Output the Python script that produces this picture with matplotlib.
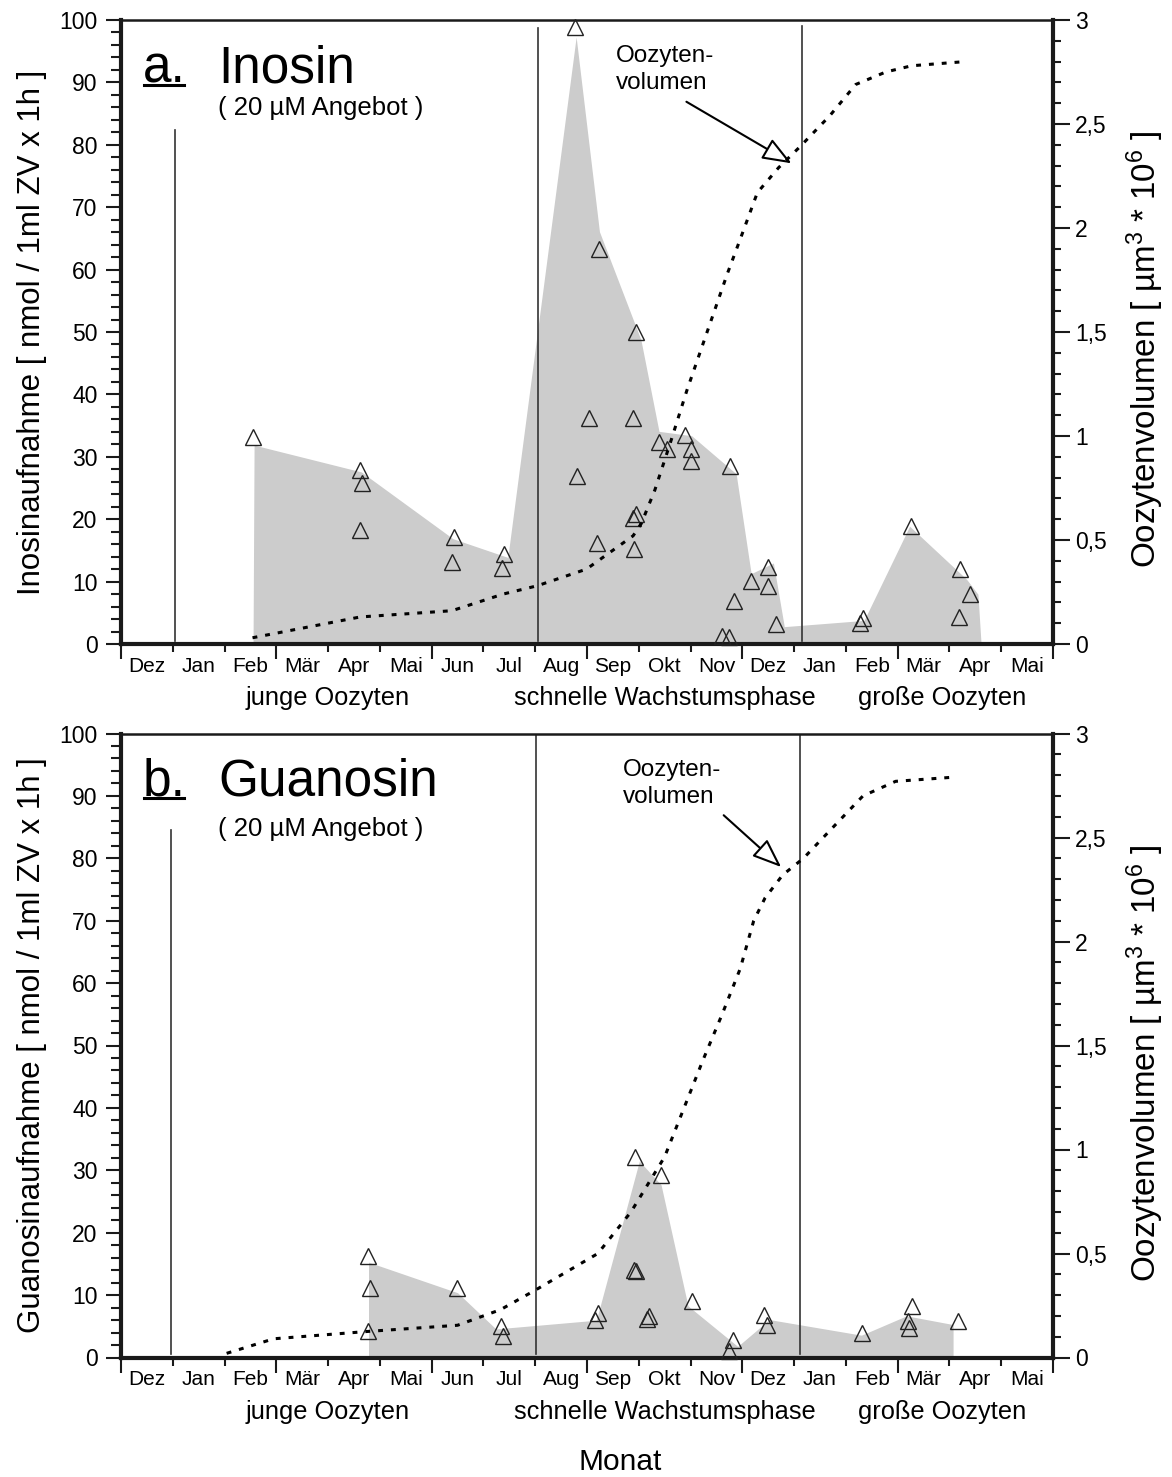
import matplotlib as mpl
mpl.use('Agg')
import matplotlib.pyplot as plt
import matplotlib.ticker as plticker
import matplotlib.transforms as mtrans
from matplotlib.lines import Line2D

plt.rcParams['font.family'] = ['Liberation Sans', 'DejaVu Sans']
plt.rcParams['mathtext.fontset'] = 'custom'
plt.rcParams['mathtext.rm'] = 'Liberation Sans'
plt.rcParams['mathtext.it'] = 'Liberation Sans'

# x axis: months from Dez to Mai of the following year, one unit per month
months = ['Dez', 'Jan', 'Feb', 'Mär', 'Apr', 'Mai', 'Jun', 'Jul', 'Aug',
          'Sep', 'Okt', 'Nov', 'Dez', 'Jan', 'Feb', 'Mär', 'Apr', 'Mai']
phases = ['junge Oozyten', 'schnelle Wachstumsphase', 'große Oozyten']

# a. Inosin uptake, single measurements
ino_t = [2.54, 4.62, 4.66, 4.62, 6.43, 6.40, 7.39, 7.36, 8.77, 9.23, 9.94, 9.03, 9.88,
         8.81, 9.94, 9.89, 9.19, 9.91, 10.40, 10.54, 10.90, 11.00, 11.00, 11.76,
         12.49, 12.16, 12.49, 11.83, 12.65, 11.60, 11.74, 14.33, 14.27, 15.25,
         16.21, 16.40, 16.18]
ino_v = [33.2, 27.9, 25.8, 18.3, 17.2, 13.2, 14.5, 12.2, 98.8, 63.3, 50.0, 36.2, 36.2,
         26.9, 20.8, 20.2, 16.2, 15.2, 32.3, 31.2, 33.5, 31.2, 29.3, 28.5,
         12.4, 10.1, 9.3, 6.9, 3.2, 1.3, 1.2, 4.1, 3.4, 18.9,
         12.0, 8.0, 4.3]
# envelope of the Inosin values
ino_env_t = [2.56, 2.58, 4.65, 6.42, 7.48, 8.80, 9.25, 10.05, 10.40, 11.03, 11.89,
             12.18, 12.61, 12.82, 14.36, 15.24, 16.34, 16.56, 16.62]
ino_env_v = [0, 31.8, 27.5, 16.8, 13.8, 97.2, 66.0, 48.7, 34.0, 33.3, 27.2,
             11.2, 12.9, 2.7, 3.7, 18.8, 10.3, 7.9, 0]

# b. Guanosin uptake, single measurements
gua_t = [4.78, 4.80, 4.78, 6.48, 7.34, 7.37, 9.22, 9.16, 9.93, 10.42, 9.91, 9.94,
         10.19, 10.15, 11.03, 11.82, 11.75, 12.41, 12.47, 14.32, 15.28, 15.19,
         15.21, 16.16]
gua_v = [16.3, 11.2, 4.2, 11.1, 5.0, 3.4, 7.2, 6.0, 32.2, 29.2, 14.0, 13.8,
         6.7, 6.1, 9.1, 2.8, 1.1, 6.8, 5.2, 4.0, 8.3, 5.9,
         4.7, 5.9]
gua_env_t = [4.79, 4.79, 6.51, 7.25, 9.19, 10.02, 10.44, 10.96, 11.92, 12.53,
             14.31, 15.18, 16.08, 16.08]
gua_env_v = [0, 15.2, 10.3, 4.5, 5.9, 31.4, 27.6, 8.2, 1.7, 6.0,
             3.5, 6.6, 5.2, 0]

# oocyte volume [um^3 * 10^6]
vol_a_t = [2.54, 4.62, 6.39, 7.38, 8.04, 8.99, 9.89, 10.05, 10.31, 10.60, 10.93,
           11.25, 11.71, 11.95, 12.29, 12.70, 13.11, 13.69, 14.19, 14.77, 15.27, 16.30]
vol_a_v = [0.03, 0.13, 0.16, 0.24, 0.28, 0.36, 0.52, 0.58, 0.74, 0.96, 1.22,
           1.45, 1.78, 1.94, 2.17, 2.29, 2.39, 2.54, 2.69, 2.75, 2.78, 2.80]
vol_b_t = [2.04, 2.95, 3.98, 4.75, 6.50, 7.33, 8.01, 9.21, 9.85, 10.50, 11.24,
           11.61, 11.96, 12.22, 12.44, 12.78, 13.18, 13.85, 14.33, 14.96, 16.08]
vol_b_v = [0.02, 0.09, 0.11, 0.125, 0.155, 0.23, 0.325, 0.50, 0.70, 0.965, 1.43,
           1.65, 1.87, 2.10, 2.21, 2.32, 2.40, 2.575, 2.70, 2.77, 2.79]

# phase boundaries (month position, top of the line)
sep_a_t = [1.04, 8.05, 13.16]
sep_a_top = [82.4, 98.7, 99.0]
sep_b_t = [0.97, 8.02, 13.11]
sep_b_top = [84.6, 100, 100]

cfill = '#cccccc'
cedge = '#1a1a1a'

W, H = 1172, 1477
my_dpi = 100
fig = plt.figure(figsize=(W / my_dpi, H / my_dpi), dpi=my_dpi)


def commaFormatter(x, pos):
    return '{:g}'.format(x).replace('.', ',')


def panel(rect, letter, name, pts_t, pts_v, env_t, env_v, vol_t, vol_v,
          sep_t, sep_top, ylabel, note_xy, arrow_from, arrow_to, sub_y):
    ax = fig.add_axes(rect)
    ax.set_xlim(0, 18)
    ax.set_ylim(0, 100)

    ax.fill(env_t, env_v, color=cfill, lw=0, zorder=1)
    for xs, top in zip(sep_t, sep_top):
        ax.plot([xs, xs], [0.5, top], color='#333333', lw=1.2, zorder=2)
    ax.plot(pts_t, pts_v, ls='none', marker='^', ms=11.5, mfc='none',
            mec='#222222', mew=1.0, zorder=3, clip_on=False)

    # month grid on x
    ax.xaxis.set_major_locator(plticker.MultipleLocator(3))
    ax.xaxis.set_minor_locator(plticker.MultipleLocator(1))
    ax.xaxis.set_major_formatter(plticker.NullFormatter())
    ax.tick_params(axis='x', which='major', direction='out', length=11, width=1.5, color=cedge)
    ax.tick_params(axis='x', which='minor', direction='out', length=6, width=1.5, color=cedge)
    trans = mtrans.blended_transform_factory(ax.transData, ax.transAxes)
    for i, m in enumerate(months):
        ax.text(i + 0.5, -0.036, m, transform=trans, ha='center', va='center', fontsize=15)
    for xp, ph in zip([4.0, 10.5, 15.85], phases):
        ax.text(xp, -0.087, ph, transform=trans, ha='center', va='center', fontsize=18.3)

    ax.yaxis.set_major_locator(plticker.MultipleLocator(10))
    ax.yaxis.set_minor_locator(plticker.MultipleLocator(2))
    ax.tick_params(axis='y', which='major', direction='out', length=11, width=1.5,
                   color=cedge, labelsize=16.5, pad=6)
    ax.tick_params(axis='y', which='minor', direction='out', length=7, width=1.5, color=cedge)
    ax.set_ylabel(ylabel, fontsize=20)
    ax.yaxis.set_label_coords(-0.079, 0.5)

    for s in ['left', 'bottom']:
        ax.spines[s].set_linewidth(3)
        ax.spines[s].set_color(cedge)
    ax.spines['top'].set_linewidth(1.8)
    ax.spines['top'].set_color(cedge)
    ax.spines['right'].set_visible(False)

    # oocyte volume on the right axis
    ax2 = ax.twinx()
    ax2.set_ylim(0, 3)
    ax2.plot(vol_t, vol_v, color='black', lw=2.2, ls=(0, (1.6, 2.6)), zorder=4)
    ax2.yaxis.set_major_locator(plticker.MultipleLocator(0.5))
    ax2.yaxis.set_minor_locator(plticker.MultipleLocator(0.1))
    ax2.yaxis.set_major_formatter(plticker.FuncFormatter(commaFormatter))
    ax2.tick_params(axis='y', which='major', direction='out', length=12, width=1.5,
                    color=cedge, labelsize=16.5, pad=4)
    ax2.tick_params(axis='y', which='minor', direction='out', length=6, width=1.5, color=cedge)
    ax2.set_ylabel('Oozytenvolumen [ µm$^{3}$ * 10$^{6}$ ]', fontsize=20)
    ax2.yaxis.set_label_coords(1.077, 0.472)
    ax2.spines['right'].set_linewidth(3)
    ax2.spines['right'].set_color(cedge)
    for s in ['left', 'top', 'bottom']:
        ax2.spines[s].set_visible(False)

    ax2.text(note_xy[0], note_xy[1], 'Oozyten-\nvolumen', ha='left', va='top',
             fontsize=17.5, linespacing=1.3)
    ax2.annotate('', xy=arrow_to, xytext=arrow_from,
                 arrowprops=dict(arrowstyle='-|>,head_length=0.9,head_width=0.35',
                                 fc='white', ec='black', lw=1.5, mutation_scale=20,
                                 shrinkA=0, shrinkB=0))

    tl = ax.text(0.0236, 0.9006, letter, transform=ax.transAxes, fontsize=37, va='baseline')
    ax.text(0.104, 0.9006, name, transform=ax.transAxes, fontsize=37, va='baseline')
    ax.text(0.104, sub_y, '( 20 µM Angebot )', transform=ax.transAxes, fontsize=18.5,
            va='baseline')
    return ax, ax2, tl


axa, axa2, ta = panel([121 / W, 1 - 644 / H, 932 / W, 624 / H], 'a.', 'Inosin',
                      ino_t, ino_v, ino_env_t, ino_env_v, vol_a_t, vol_a_v,
                      sep_a_t, sep_a_top, 'Inosinaufnahme [ nmol / 1ml ZV x 1h ]',
                      (9.55, 2.88), (10.92, 2.607), (12.95, 2.311), 0.848)
axb, axb2, tb = panel([121 / W, 1 - 1357.5 / H, 932 / W, 624 / H], 'b.', 'Guanosin',
                      gua_t, gua_v, gua_env_t, gua_env_v, vol_b_t, vol_b_v,
                      sep_b_t, sep_b_top, 'Guanosinaufnahme [ nmol / 1ml ZV x 1h ]',
                      (9.70, 2.876), (11.64, 2.607), (12.75, 2.358), 0.835)

fig.text(620 / W, 1 - 1462 / H, 'Monat', ha='center', va='center', fontsize=21.5)

# size the axis titles so the Inosin label spans ~525 px and the volume label ~437 px
fig.canvas.draw()
for _ in range(2):
    lab = axa.yaxis.label
    fs = lab.get_fontsize() * 525.0 / lab.get_window_extent().height
    axa.yaxis.label.set_fontsize(fs)
    axb.yaxis.label.set_fontsize(fs)
    lab2 = axa2.yaxis.label
    fs2 = lab2.get_fontsize() * 437.0 / lab2.get_window_extent().height
    axa2.yaxis.label.set_fontsize(fs2)
    axb2.yaxis.label.set_fontsize(fs2)
    fig.canvas.draw()

# underline the panel letters
for t in (ta, tb):
    bb = t.get_window_extent()
    y = bb.y0 + 0.17 * bb.height
    fig.add_artist(Line2D([bb.x0 / W + 0.001, bb.x1 / W - 0.002], [y / H, y / H],
                          transform=fig.transFigure, color='black', lw=2.2))

plt.savefig('out.png', dpi=my_dpi, facecolor='white')
